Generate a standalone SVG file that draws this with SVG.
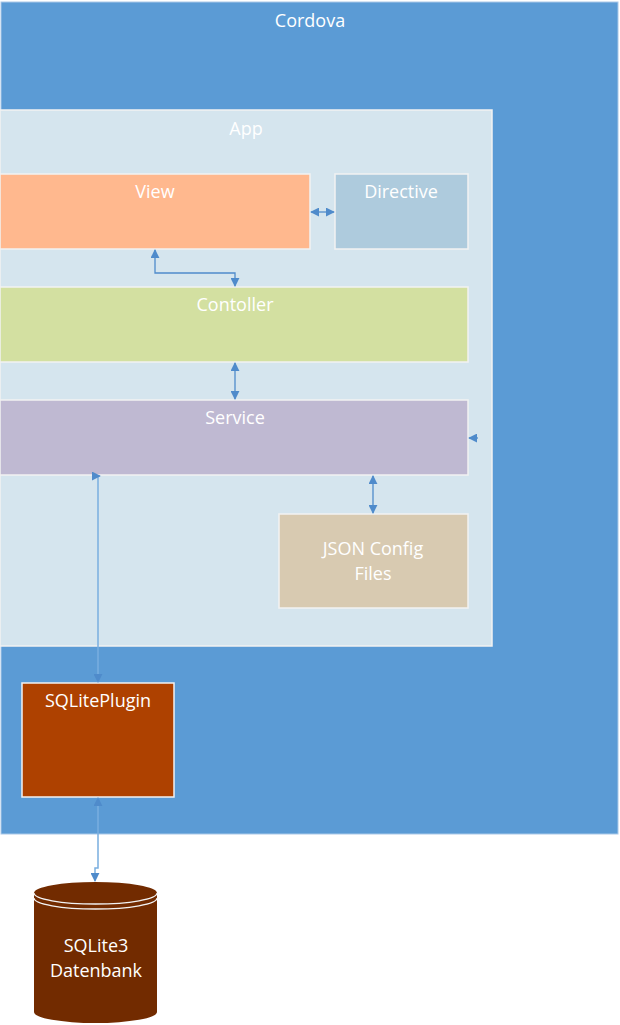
<svg xmlns="http://www.w3.org/2000/svg" width="620" height="1025" viewBox="0 0 620 1025">
<defs>
<marker id="ah" viewBox="0 0 10 10" refX="9" refY="5" markerWidth="9" markerHeight="9" markerUnits="userSpaceOnUse" orient="auto-start-reverse">
<path d="M0,0 L10,5 L0,10 z" fill="#4f8bcb"/>
</marker>
<style>
.t{font-family:"Open Sans","Liberation Sans",sans-serif;font-size:18px;fill:#ffffff;text-anchor:middle}
.b{stroke:#f2f2f2;stroke-width:1.5}
.c{fill:none;stroke:#4f8bcb;stroke-width:1.3}
.cl{fill:none;stroke:#7aaee0;stroke-width:1.5}
</style>
</defs>
<rect width="620" height="1025" fill="#ffffff"/>
<g id="cordova">
<rect x="1" y="2" width="617" height="832" fill="#5b9bd5" stroke="#a9c8e8" stroke-width="1"/>
<text class="t" x="310" y="27">Cordova</text>
</g>
<g id="app">
<rect x="0" y="110" width="492" height="536" fill="#d5e5ee" class="b"/>
<text class="t" x="246" y="135">App</text>
</g>
<g id="view">
<rect x="0" y="174" width="310" height="75" fill="#ffb88e" class="b"/>
<text class="t" x="155" y="198">View</text>
</g>
<g id="directive">
<rect x="335" y="174" width="133" height="75" fill="#aecbdd" class="b"/>
<text class="t" x="401" y="198">Directive</text>
</g>
<g id="controller">
<rect x="0" y="287" width="468" height="75" fill="#d3e0a1" class="b"/>
<text class="t" x="235" y="311">Contoller</text>
</g>
<g id="service">
<rect x="0" y="400" width="468" height="75" fill="#bfb9d2" class="b"/>
<text class="t" x="235" y="424">Service</text>
</g>
<g id="json">
<rect x="279" y="514" width="189" height="94" fill="#d8cab1" class="b"/>
<text class="t" x="373" y="555">JSON Config</text>
<text class="t" x="373" y="580">Files</text>
</g>
<g id="sqliteplugin">
<rect x="22" y="683" width="152" height="114" fill="#ae4100" class="b"/>
<text class="t" x="98" y="707">SQLitePlugin</text>
</g>
<g id="database">
<path d="M34,893 L34,1012 A61.5,11 0 0 0 157,1012 L157,893 A61.5,11 0 0 0 34,893 z" fill="#722b00"/>
<path d="M34,893 A61.5,11 0 0 0 157,893 M34,898 A61.5,11 0 0 0 157,898" fill="none" stroke="#f2f2f2" stroke-width="1.3"/>
<text class="t" x="96" y="952">SQLite3</text>
<text class="t" x="96" y="977">Datenbank</text>
</g>
<g id="connectors">
<path class="c" d="M311,212 L334,212" marker-start="url(#ah)" marker-end="url(#ah)"/>
<path class="c" d="M155,250 L155,273 L235,273 L235,286" marker-start="url(#ah)" marker-end="url(#ah)"/>
<path class="c" d="M235,363 L235,399" marker-start="url(#ah)" marker-end="url(#ah)"/>
<path class="c" d="M373,476 L373,513" marker-start="url(#ah)" marker-end="url(#ah)"/>
<path class="c" d="M478,438 L469,438" marker-end="url(#ah)"/>
<path class="cl" d="M98,682 L98,476 L100,476" marker-start="url(#ah)" marker-end="url(#ah)"/>
<path class="cl" d="M98,798 L98,868 L95,868 L95,881" marker-start="url(#ah)" marker-end="url(#ah)"/>
</g>
</svg>
